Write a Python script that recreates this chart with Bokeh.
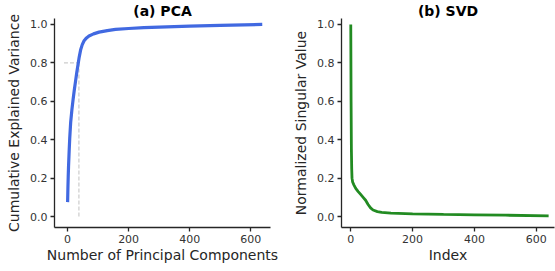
from bokeh.plotting import figure
from bokeh.layouts import row
from bokeh.models import Range1d, FixedTicker, PrintfTickFormatter
from bokeh.embed import file_html
from bokeh.resources import INLINE

# ---- data ----
pca_n = [0, 1, 2, 3, 5, 7, 10, 14, 18, 22, 26, 30, 34, 38, 43, 48, 54, 62, 70, 85, 103, 130, 157,
         200, 250, 300, 400, 500, 638]
pca_cum = [0.075, 0.15, 0.21, 0.26, 0.34, 0.41, 0.49, 0.555, 0.61, 0.66, 0.705, 0.75, 0.79, 0.83,
           0.87, 0.895, 0.915, 0.93, 0.94, 0.951, 0.96, 0.968, 0.974, 0.979, 0.983, 0.986, 0.991,
           0.995, 1.0]

svd_idx = [0, 1, 2, 3, 4, 6, 10, 16, 24, 32, 40, 48, 56, 64, 72, 86, 100, 130, 200, 300, 400, 500, 640]
svd_val = [1.0, 0.6, 0.35, 0.25, 0.2, 0.18, 0.165, 0.147, 0.13, 0.115, 0.1, 0.085, 0.063, 0.045, 0.034,
           0.026, 0.022, 0.018, 0.014, 0.011, 0.009, 0.007, 0.004]

threshold = 0.8
n_at_threshold = 37
guide_start = -12
guide_floor = 0.0

x_ticks = [0, 200, 400, 600]
y_ticks = [0.0, 0.2, 0.4, 0.6, 0.8, 1.0]

titles = ["(a) PCA", "(b) SVD"]
x_labels = ["Number of Principal Components", "Index"]
y_labels = ["Cumulative Explained Variance", "Normalized Singular Value"]

FONT = "DejaVu Sans"
DARK = "#262626"


def style(p, xlabel, ylabel, title_offset):
    p.outline_line_color = None
    p.xgrid.grid_line_color = None
    p.ygrid.grid_line_color = None
    p.background_fill_color = "white"
    p.border_fill_color = "white"
    p.xaxis.ticker = FixedTicker(ticks=x_ticks)
    p.yaxis.ticker = FixedTicker(ticks=y_ticks)
    p.xaxis.formatter = PrintfTickFormatter(format="%d")
    p.yaxis.formatter = PrintfTickFormatter(format="%.1f")
    p.xaxis.axis_label = xlabel
    p.yaxis.axis_label = ylabel
    for ax in (p.xaxis[0], p.yaxis[0]):
        ax.axis_line_color = DARK
        ax.axis_line_width = 1.3
        ax.major_tick_line_color = DARK
        ax.major_tick_line_width = 1.3
        ax.major_tick_in = 0
        ax.major_tick_out = 4
        ax.minor_tick_line_color = None
        ax.major_label_text_font = FONT
        ax.major_label_text_font_size = "11px"
        ax.major_label_text_color = "#333333"
        ax.axis_label_text_font = FONT
        ax.axis_label_text_font_size = "14px"
        ax.axis_label_text_font_style = "normal"
        ax.axis_label_text_color = DARK
        ax.major_label_standoff = 3
    p.xaxis[0].axis_label_standoff = 1
    p.yaxis[0].axis_label_standoff = 5
    p.title.text_font = FONT
    p.title.text_font_size = "14px"
    p.title.text_font_style = "bold"
    p.title.text_color = "black"
    p.title.align = "center"
    p.title.offset = title_offset
    p.title.standoff = 0


p1 = figure(width=285, height=271, output_backend="svg", toolbar_location=None, title=titles[0],
            x_range=Range1d(-43, 665), y_range=Range1d(-0.057, 1.031),
            min_border_left=54, min_border_right=15, min_border_top=14, min_border_bottom=44)
p1.line([guide_start, n_at_threshold], [threshold, threshold], line_color="#cccccc",
        line_width=1.2, line_dash="4 2")
p1.line([n_at_threshold, n_at_threshold], [guide_floor, threshold], line_color="#cccccc",
        line_width=1.2, line_dash="4 2")
p1.line(pca_n, pca_cum, line_color="#4169E1", line_width=3.2)
style(p1, x_labels[0], y_labels[0], 11)

p2 = figure(width=270, height=271, output_backend="svg", toolbar_location=None, title=titles[1],
            x_range=Range1d(-30, 659), y_range=Range1d(-0.057, 1.031),
            min_border_left=56, min_border_right=1, min_border_top=14, min_border_bottom=44)
p2.line(svd_idx, svd_val, line_color="#228B22", line_width=2.8)
style(p2, x_labels[1], y_labels[1], 8)

layout = row(p1, p2)
open("out.html", "w").write(file_html(layout, INLINE))
